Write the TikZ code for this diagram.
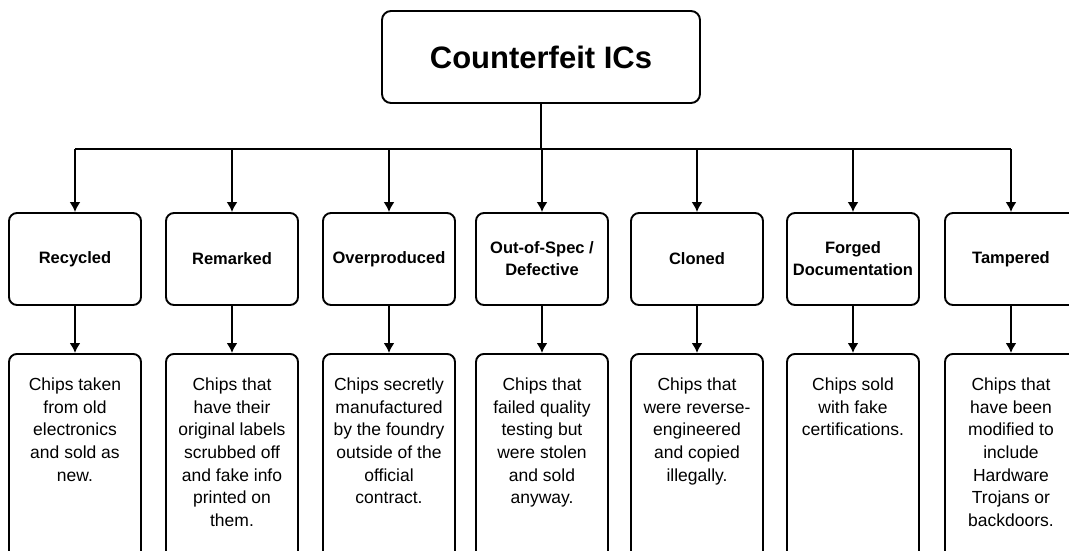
\documentclass[tikz,border=0pt]{standalone}
\usepackage{fontspec}
\setmainfont{Liberation Sans}
\usetikzlibrary{arrows.meta}

\newcommand{\infotext}[1]{\parbox[t][200pt][t]{132pt}{\centering #1}}

\begin{document}
\begin{tikzpicture}[x=1pt, y=-1pt, line width=1.9pt,
    rootbox/.style={draw, rounded corners=9pt, minimum width=318pt, minimum height=92pt,
      font=\fontsize{31}{36}\selectfont\bfseries},
    kindbox/.style={draw, rounded corners=8pt, minimum width=132pt, minimum height=92pt,
      align=center, font=\fontsize{16.5}{22}\selectfont\bfseries},
    infobox/.style={draw, rounded corners=8pt, anchor=north, inner xsep=0pt, inner ysep=24pt,
      font=\fontsize{17.5}{22.6}\selectfont},
    arr/.style={-{Latex[length=10pt,width=11pt]}}]

  \useasboundingbox (0,0) rectangle (1069,550);
  \clip (0,0) rectangle (1069,550);

  \node[rootbox] (root) at (541,57) {Counterfeit ICs};

  \node[kindbox] (rec)  at (75,259)   {Recycled};
  \node[kindbox] (rem)  at (232,259)  {Remarked};
  \node[kindbox] (over) at (389,259)  {Overproduced};
  \node[kindbox] (spec) at (542,259)  {Out-of-Spec /\\Defective};
  \node[kindbox] (clon) at (697,259)  {Cloned};
  \node[kindbox] (forg) at (853,259)  {Forged\\Documentation};
  \node[kindbox] (tamp) at (1011,259) {Tampered};

  \node[infobox] (rec-i)  at (75,353)   {\infotext{Chips taken\\from old\\electronics\\and sold as\\new.}};
  \node[infobox] (rem-i)  at (232,353)  {\infotext{Chips that\\have their\\original labels\\scrubbed off\\and fake info\\printed on\\them.}};
  \node[infobox] (over-i) at (389,353)  {\infotext{Chips secretly\\manufactured\\by the foundry\\outside of the\\official\\contract.}};
  \node[infobox] (spec-i) at (542,353)  {\infotext{Chips that\\failed quality\\testing but\\were stolen\\and sold\\anyway.}};
  \node[infobox] (clon-i) at (697,353)  {\infotext{Chips that\\were reverse-\\engineered\\and copied\\illegally.}};
  \node[infobox] (forg-i) at (853,353)  {\infotext{Chips sold\\with fake\\certifications.}};
  \node[infobox] (tamp-i) at (1011,353) {\infotext{Chips that\\have been\\modified to\\include\\Hardware\\Trojans or\\backdoors.}};

  % tree trunk and bus
  \coordinate (bus) at (541,149);
  \draw (root.south) -- (bus);
  \draw (rec.north |- bus) -- (tamp.north |- bus);

  \draw [arr] (rec.north |- bus)  -- (rec.north);
  \draw [arr] (rem.north |- bus)  -- (rem.north);
  \draw [arr] (over.north |- bus) -- (over.north);
  \draw [arr] (spec.north |- bus) -- (spec.north);
  \draw [arr] (clon.north |- bus) -- (clon.north);
  \draw [arr] (forg.north |- bus) -- (forg.north);
  \draw [arr] (tamp.north |- bus) -- (tamp.north);

  \draw [arr] (rec.south)  -- (rec-i.north);
  \draw [arr] (rem.south)  -- (rem-i.north);
  \draw [arr] (over.south) -- (over-i.north);
  \draw [arr] (spec.south) -- (spec-i.north);
  \draw [arr] (clon.south) -- (clon-i.north);
  \draw [arr] (forg.south) -- (forg-i.north);
  \draw [arr] (tamp.south) -- (tamp-i.north);

\end{tikzpicture}
\end{document}
